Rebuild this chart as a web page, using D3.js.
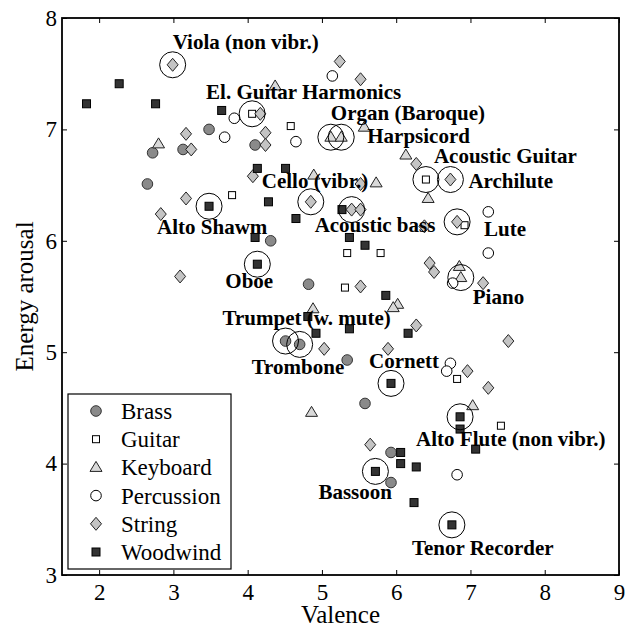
<!DOCTYPE html>
<html>
<head>
<meta charset="utf-8">
<script src="https://cdn.jsdelivr.net/npm/d3@7"></script>
<style>
  body { margin: 0; background: #fff; }
  svg text { font-family: "Liberation Serif", "Times New Roman", serif; }
</style>
</head>
<body>
<div id="chart"></div>
<script>
// valence / arousal pairs per instrument family
var brass = [[2.65,6.51],[2.72,6.79],[3.13,6.82],[3.48,7.0],[4.10,6.86],[4.31,6.0],[4.82,5.61],
  [4.51,5.10],[4.70,5.07],[5.34,4.93],[5.58,4.54],[5.93,4.10],[5.93,3.83]];
var guitar = [[4.06,7.14],[4.58,7.03],[3.79,6.41],[6.40,6.55],[6.92,6.14],[5.34,5.89],[5.79,5.89],
  [5.31,5.58],[6.82,4.76],[7.41,4.34]];
var keyboard = [[2.80,6.87],[4.37,7.39],[5.12,6.93],[5.26,6.93],[5.57,7.02],[6.13,6.77],[4.89,6.59],
  [5.73,6.52],[6.43,6.38],[6.85,5.77],[6.87,5.67],[6.02,5.43],[5.96,5.40],[4.88,5.39],[4.86,4.46],[7.03,4.52]];
var percussion = [[3.82,7.10],[3.69,6.93],[4.65,6.89],[5.14,7.48],[7.24,6.26],[7.24,5.89],[6.76,5.62],
  [6.73,4.90],[6.68,4.83],[6.82,3.90]];
var string = [[2.99,7.58],[3.17,6.96],[3.24,6.82],[4.17,7.14],[4.24,6.97],[4.24,6.86],[4.07,6.58],
  [3.17,6.38],[2.83,6.24],[3.09,5.68],[5.24,7.61],[5.52,7.45],[6.27,6.69],[6.73,6.55],[5.52,6.51],
  [4.85,6.35],[5.40,6.28],[5.52,6.28],[6.38,6.13],[6.82,6.17],[6.45,5.80],[6.51,5.72],[7.17,5.62],
  [5.52,5.59],[6.27,5.24],[5.03,5.03],[5.89,5.03],[7.51,5.10],[6.96,4.83],[7.24,4.68],[5.65,4.17]];
var woodwind = [[1.83,7.23],[2.27,7.41],[2.76,7.23],[3.65,7.17],[4.13,6.65],[4.51,6.65],[3.48,6.31],
  [4.28,6.35],[4.65,6.20],[4.10,6.03],[4.13,5.79],[5.27,6.28],[5.37,6.03],[5.58,5.96],[5.86,5.51],
  [4.81,5.32],[4.92,5.17],[5.37,5.21],[6.16,5.17],[5.93,4.72],[6.86,4.42],[6.86,4.31],[7.07,4.13],
  [6.06,4.10],[6.06,4.00],[6.27,3.97],[5.72,3.93],[6.24,3.65],[6.75,3.45]];

var familyNames = ["Brass", "Guitar", "Keyboard", "Percussion", "String", "Woodwind"];

// highlighted instruments: name, valence, arousal
var highlightNames = ["Viola (non vibr.)", "El. Guitar Harmonics", "Organ (Baroque)", "Harpsicord",
  "Acoustic Guitar", "Archilute", "Cello (vibr.)", "Alto Shawm", "Acoustic bass", "Lute", "Oboe",
  "Piano", "Trumpet (w. mute)", "Trombone", "Cornett", "Alto Flute (non vibr.)", "Bassoon", "Tenor Recorder"];
var highlightValence = [2.99, 4.06, 5.12, 5.26, 6.40, 6.73, 4.85, 3.48, 5.40, 6.82, 4.13, 6.87, 4.51, 4.70, 5.93, 6.86, 5.72, 6.75];
var highlightArousal = [7.58, 7.14, 6.93, 6.93, 6.55, 6.55, 6.35, 6.31, 6.28, 6.17, 5.79, 5.67, 5.10, 5.07, 4.72, 4.42, 3.93, 3.45];

// label offsets from the circled point (px)
var labelDx = [0, -46, 0, 26, 8, 18, -49, -52, -37, 27, -32, 12, -63, -48, -22, -44, -57, -40];
var labelDy = [-16, -15, -17, 6, -17, 8, -14, 28, 22, 14, 24, 26, -16, 30, -15, 29, 28, 30];

var xTicks = [2, 3, 4, 5, 6, 7, 8, 9];
var yTicks = [3, 4, 5, 6, 7, 8];

var width = 632, height = 629;
var plotLeft = 62, plotRight = 619, plotTop = 18, plotBottom = 575;

var x = d3.scaleLinear().domain([1.5, 9]).range([plotLeft, plotRight]);
var y = d3.scaleLinear().domain([3, 8]).range([plotBottom, plotTop]);

var svg = d3.select("#chart").append("svg")
  .attr("width", width)
  .attr("height", height);

// ticks, all pointing inwards
svg.append("g")
  .attr("transform", "translate(0," + plotBottom + ")")
  .call(d3.axisBottom(x).tickValues(xTicks).tickSize(-5).tickPadding(9).tickFormat(d3.format("d")));
svg.append("g")
  .attr("transform", "translate(0," + plotTop + ")")
  .call(d3.axisTop(x).tickValues(xTicks).tickSize(-5).tickFormat(""));
svg.append("g")
  .attr("transform", "translate(" + plotLeft + ",0)")
  .call(d3.axisLeft(y).tickValues(yTicks).tickSize(-5).tickPadding(5).tickFormat(d3.format("d")));
svg.append("g")
  .attr("transform", "translate(" + plotRight + ",0)")
  .call(d3.axisRight(y).tickValues(yTicks).tickSize(-5).tickFormat(""));

svg.selectAll(".domain").remove();
svg.selectAll(".tick line").attr("stroke", "#000").attr("stroke-width", 1);
svg.selectAll(".tick text")
  .attr("fill", "#000")
  .style("font-family", "'Liberation Serif', serif")
  .style("font-size", "23px");

svg.append("rect")
  .attr("x", plotLeft).attr("y", plotTop)
  .attr("width", plotRight - plotLeft).attr("height", plotBottom - plotTop)
  .attr("fill", "none")
  .attr("stroke", "#000")
  .attr("stroke-width", 1.8);

// axis titles
svg.append("text")
  .attr("x", (plotLeft + plotRight) / 2).attr("y", 623)
  .attr("text-anchor", "middle")
  .style("font-size", "25px")
  .text("Valence");
svg.append("text")
  .attr("transform", "translate(33," + (plotTop + plotBottom) / 2 + ") rotate(-90)")
  .attr("text-anchor", "middle")
  .style("font-size", "25px")
  .text("Energy arousal");

// marker drawing per family
function drawMarker(g, fam, cx, cy) {
  if (fam == "Brass") {
    g.append("circle").attr("cx", cx).attr("cy", cy).attr("r", 5.3)
      .attr("fill", "#8a8a8a").attr("stroke", "#333").attr("stroke-width", 1);
  } else if (fam == "Guitar") {
    g.append("rect").attr("x", cx - 3.5).attr("y", cy - 3.5).attr("width", 7).attr("height", 7)
      .attr("fill", "#fff").attr("stroke", "#000").attr("stroke-width", 1);
  } else if (fam == "Keyboard") {
    g.append("path")
      .attr("d", "M" + cx + "," + (cy - 6) + "L" + (cx + 6) + "," + (cy + 4) + "L" + (cx - 6) + "," + (cy + 4) + "Z")
      .attr("fill", "#d9d9d9").attr("stroke", "#222").attr("stroke-width", 1);
  } else if (fam == "Percussion") {
    g.append("circle").attr("cx", cx).attr("cy", cy).attr("r", 5.3)
      .attr("fill", "#fff").attr("stroke", "#000").attr("stroke-width", 1);
  } else if (fam == "String") {
    g.append("path")
      .attr("d", "M" + cx + "," + (cy - 6.5) + "L" + (cx + 5.5) + "," + cy + "L" + cx + "," + (cy + 6.5) + "L" + (cx - 5.5) + "," + cy + "Z")
      .attr("fill", "#c4c4c4").attr("stroke", "#222").attr("stroke-width", 1);
  } else {
    g.append("rect").attr("x", cx - 4).attr("y", cy - 4).attr("width", 8).attr("height", 8)
      .attr("fill", "#333").attr("stroke", "#000").attr("stroke-width", 1);
  }
}

var families = [brass, guitar, keyboard, percussion, string, woodwind];
var pts = svg.append("g");
families.forEach(function (data, i) {
  data.forEach(function (d) {
    drawMarker(pts, familyNames[i], x(d[0]), y(d[1]));
  });
});

// circles round the named instruments
svg.append("g").selectAll("circle")
  .data(highlightNames)
  .enter().append("circle")
  .attr("cx", function (d, i) { return x(highlightValence[i]); })
  .attr("cy", function (d, i) { return y(highlightArousal[i]); })
  .attr("r", 13)
  .attr("fill", "none")
  .attr("stroke", "#000")
  .attr("stroke-width", 1);

svg.append("g").selectAll("text")
  .data(highlightNames)
  .enter().append("text")
  .attr("x", function (d, i) { return x(highlightValence[i]) + labelDx[i]; })
  .attr("y", function (d, i) { return y(highlightArousal[i]) + labelDy[i]; })
  .style("font-size", "21px")
  .style("font-weight", "bold")
  .text(function (d) { return d; });

// legend
var legend = svg.append("g");
legend.append("rect")
  .attr("x", 68).attr("y", 394)
  .attr("width", 163).attr("height", 175)
  .attr("fill", "#fff")
  .attr("stroke", "#000")
  .attr("stroke-width", 1.2);
familyNames.forEach(function (name, i) {
  var ry = 411 + i * 28.2;
  drawMarker(legend, name, 96, ry);
  legend.append("text")
    .attr("x", 121).attr("y", ry + 8)
    .style("font-size", "23px")
    .text(name);
});
</script>
</body>
</html>
